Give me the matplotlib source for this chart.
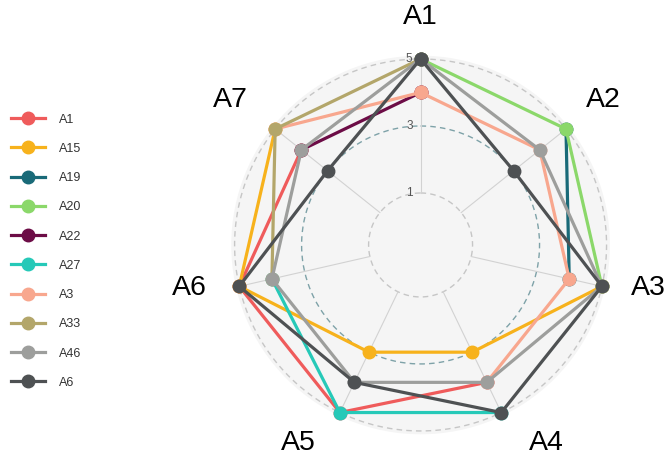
import numpy as np
import matplotlib.pyplot as plt

plt.rcParams['font.family'] = ['Liberation Sans', 'DejaVu Sans']

nan = np.nan

# radar axes, clockwise from the top
axis_labels = ['A1', 'A2', 'A3', 'A4', 'A5', 'A6', 'A7']

# one value per axis (A1..A7), nan where the series has no point
series_names = ['A1', 'A15', 'A19', 'A20', 'A22', 'A27', 'A3', 'A33', 'A46', 'A6']
s_A1 = [nan, nan, nan, 4, 5, 5, 4]
s_A15 = [nan, nan, 5, 3, 3, 5, 5]
s_A19 = [nan, 5, 4, nan, nan, nan, nan]
s_A20 = [5, 5, 5, nan, nan, nan, nan]
s_A22 = [4, nan, nan, nan, nan, nan, 4]
s_A27 = [nan, nan, nan, 5, 5, 4, nan]
s_A3 = [4, 4, 4, 4, nan, nan, 5]
s_A33 = [5, nan, nan, nan, nan, 4, 5]
s_A46 = [5, 4, 5, 4, 4, 4, 4]
s_A6 = [5, 3, 5, 5, 4, 5, 3]
series_values = [s_A1, s_A15, s_A19, s_A20, s_A22, s_A27, s_A3, s_A33, s_A46, s_A6]

colors = ['#ef5b5b', '#f7b21c', '#196a78', '#8bd86a', '#6c0c46',
          '#26c9b8', '#f8a78e', '#b3a66a', '#9d9e9c', '#4e5153']

radial_ticks = [1, 3, 5]

fig = plt.figure(figsize=(6.72, 4.59), dpi=100)
ax = fig.add_axes([0.3441, 0.0538, 0.5635, 0.825], projection='polar')
ax.set_theta_offset(np.pi / 2)
ax.set_theta_direction(-1)
ax.set_ylim(-0.552, 5.1)
ax.set_facecolor('#f5f5f5')
ax.spines['polar'].set_visible(False)
ax.grid(False)
ax.set_xticks([])
ax.set_yticks([])

angles = np.arange(len(axis_labels)) * 2 * np.pi / len(axis_labels)

# grid: dashed rings and spokes
ring = np.linspace(0, 2 * np.pi, 400)
ring_colors = {1: '#c6c6c6', 3: '#7ea2a8', 5: '#c6c6c6'}
for v in radial_ticks:
    ax.plot(ring, np.full_like(ring, v), ls=(0, (4, 3)), color=ring_colors[v], lw=1, zorder=1)
for a in angles:
    ax.plot([a, a], [1, 5.1], color='#d2d2d2', lw=0.8, zorder=1)

for v in radial_ticks:
    ax.annotate(str(v), xy=(0, v), xytext=(-8, 0), textcoords='offset pixels',
                ha='right', va='center', fontsize=8.5, color='#555555', zorder=2)

# series (closed back to the first axis, gaps where nan)
theta_closed = np.append(angles, angles[0])
for name, vals, c in zip(series_names, series_values, colors):
    r = np.append(vals, vals[0])
    ax.plot(theta_closed, r, color=c, lw=2.3, marker='o', ms=9,
            label=name, clip_on=False, zorder=3)

# axis names, nudged a little like the original layout
name_nudge = [(0, -2), (3, 2), (4, 8), (26, 9), (-23, 9), (-7, 8), (-11, 2)]
for name, a, (dx, dy) in zip(axis_labels, angles, name_nudge):
    ax.annotate(name, xy=(a, 6.3), xytext=(dx, dy), textcoords='offset pixels',
                ha='center', va='center', fontsize=20.5, color='black',
                annotation_clip=False)

fig.legend(loc='upper left', bbox_to_anchor=(0.0, 0.777), frameon=False,
           fontsize=9, labelspacing=1.38, handlelength=2.7, handletextpad=1.1,
           labelcolor='#333333')

fig.savefig('out.png', dpi=100)
